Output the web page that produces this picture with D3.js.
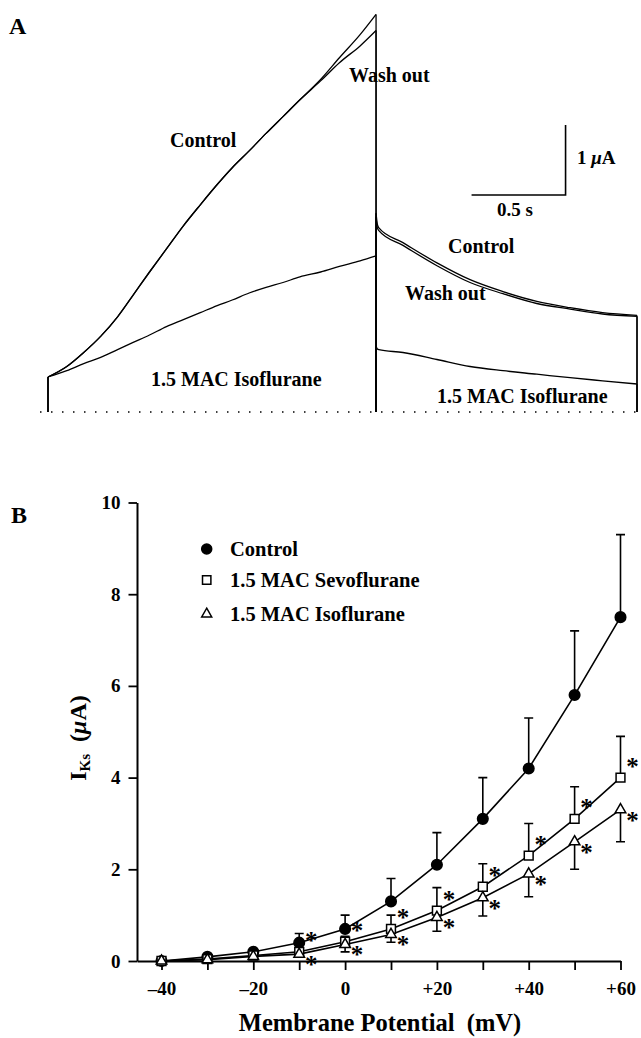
<!DOCTYPE html>
<html>
<head>
<meta charset="utf-8">
<script src="https://cdn.jsdelivr.net/npm/d3@7"></script>
<style>
  body { margin: 0; background: #fff; }
  svg { display: block; font-family: "Liberation Serif", "Times New Roman", serif; font-weight: bold; }
</style>
</head>
<body>
<svg width="641" height="1038"></svg>
<script>
// ---------- panel A data: current traces (time in s, current in uA)
var actTime    = [0, 0.1, 0.19, 0.28, 0.37, 0.45, 0.54, 0.63, 0.72, 0.81, 0.9, 0.98, 1.07, 1.16, 1.25, 1.34, 1.45, 1.55, 1.66, 1.745];
var actControl = [0.5, 0.65, 0.85, 1.08, 1.36, 1.66, 2.0, 2.33, 2.66, 2.96, 3.25, 3.49, 3.73, 3.98, 4.22, 4.46, 4.75, 5.06, 5.39, 5.68];
var actWashout = [0.5, 0.65, 0.85, 1.08, 1.36, 1.66, 2.0, 2.33, 2.66, 2.96, 3.25, 3.49, 3.73, 3.98, 4.22, 4.46, 4.73, 4.99, 5.23, 5.45];
var actIso     = [0.5, 0.59, 0.69, 0.78, 0.89, 0.99, 1.1, 1.22, 1.32, 1.42, 1.52, 1.6, 1.7, 1.78, 1.85, 1.93, 2.0, 2.08, 2.16, 2.23];

var tailTime    = [1.745, 1.752, 1.76, 1.888, 2.069, 2.245, 2.42, 2.6, 2.777, 2.95, 3.133];
var tailControl = [2.84, 2.68, 2.63, 2.42, 2.13, 1.89, 1.72, 1.58, 1.49, 1.42, 1.38];
var tailWashout = [2.79, 2.63, 2.59, 2.38, 2.09, 1.85, 1.69, 1.55, 1.47, 1.4, 1.365];
var tailIso     = [0.94, 0.9, 0.89, 0.85, 0.75, 0.65, 0.59, 0.54, 0.49, 0.446, 0.4];

// scale bars: 0.5 s and 1 uA
var barTime = 2.753, barCurrent = 3.1;

// ---------- panel B data: I-V relation
var mV         = [-40, -30, -20, -10, 0, 10, 20, 30, 40, 50, 60];
var control    = [0, 0.09, 0.2, 0.4, 0.7, 1.3, 2.1, 3.1, 4.2, 5.8, 7.5];
var controlErr = [0, 0, 0, 0.2, 0.3, 0.5, 0.7, 0.9, 1.1, 1.4, 1.8];
var sevo       = [0, 0.04, 0.12, 0.2, 0.42, 0.7, 1.1, 1.62, 2.3, 3.1, 4.0];
var sevoErr    = [0, 0, 0, 0, 0.12, 0.3, 0.5, 0.5, 0.7, 0.7, 0.9];
var iso        = [0, 0.03, 0.1, 0.15, 0.36, 0.58, 0.95, 1.38, 1.9, 2.6, 3.3];
var isoErr     = [0, 0, 0, 0, 0.16, 0.17, 0.3, 0.4, 0.5, 0.6, 0.7];
var sevoStar   = [0, 0, 0, 1, 1, 1, 1, 1, 1, 1, 1];
var isoStar    = [0, 0, 0, 1, 1, 1, 1, 1, 1, 1, 1];
var legendNames = ["Control", "1.5 MAC Sevoflurane", "1.5 MAC Isoflurane"];
var yTicks = [0, 2, 4, 6, 8, 10];

var svg = d3.select("svg");

// ================= panel A =================
var tScale = d3.scaleLinear().domain([0, 1]).range([48, 236]);
var iScale = d3.scaleLinear().domain([0, 1]).range([412, 342]);

var smooth = d3.line()
  .x(function(d) { return tScale(d[0]); })
  .y(function(d) { return iScale(d[1]); })
  .curve(d3.curveMonotoneX);
var straight = d3.line()
  .x(function(d) { return tScale(d[0]); })
  .y(function(d) { return iScale(d[1]); });

var gA = svg.append("g");

// zero current, dotted
gA.append("line")
  .attr("x1", 40).attr("x2", 641)
  .attr("y1", iScale(0)).attr("y2", iScale(0))
  .attr("stroke", "#000").attr("stroke-width", 1.5)
  .attr("stroke-dasharray", "1.5,9.5");

[[actControl, tailControl], [actWashout, tailWashout], [actIso, tailIso]].forEach(function(tr) {
  var act = actTime.map(function(t, i) { return [t, tr[0][i]]; });
  var tail = tailTime.map(function(t, i) { return [t, tr[1][i]]; });
  var tEnd = actTime[actTime.length - 1], tLast = tailTime[tailTime.length - 1];
  // steps of the voltage protocol
  [[[0, 0], act[0]],
   [act[act.length - 1], [tEnd, 0]],
   [[tEnd, 0], tail[0]],
   [tail[tail.length - 1], [tLast, 0]]].forEach(function(seg) {
    gA.append("path").attr("d", straight(seg))
      .attr("fill", "none").attr("stroke", "#000").attr("stroke-width", 1.3);
  });
  [act, tail].forEach(function(p) {
    gA.append("path").attr("d", smooth(p))
      .attr("fill", "none").attr("stroke", "#000").attr("stroke-width", 1.3);
  });
});

// scale bars
gA.append("path")
  .attr("d", "M" + tScale(barTime - 0.5) + "," + iScale(barCurrent) +
             "H" + tScale(barTime) + "V" + iScale(barCurrent + 1))
  .attr("fill", "none").attr("stroke", "#000").attr("stroke-width", 1.6);

var ua = gA.append("text").attr("x", 577).attr("y", 164).attr("font-size", 19);
ua.append("tspan").style("white-space", "pre").text("1 ");
ua.append("tspan").attr("font-style", "italic").text("\u03bc");
ua.append("tspan").text("A");
gA.append("text").attr("x", 515).attr("y", 216).attr("font-size", 19)
  .attr("text-anchor", "middle").text("0.5 s");

var labelsA = [
  ["A", 9, 34, 24],
  ["Control", 170, 147, 20],
  ["Wash out", 349, 82, 20],
  ["Control", 448, 253, 20],
  ["Wash out", 405, 300, 20],
  ["1.5 MAC Isoflurane", 151, 386, 20],
  ["1.5 MAC Isoflurane", 437, 403, 20]
];
labelsA.forEach(function(l) {
  gA.append("text").attr("x", l[1]).attr("y", l[2]).attr("font-size", l[3]).text(l[0]);
});

// ================= panel B =================
var x = d3.scaleLinear().domain([-45.34, 60]).range([137, 620.5]);
var y = d3.scaleLinear().domain([0, 10]).range([961, 502.5]);

var gB = svg.append("g");

var xAxis = d3.axisBottom(x)
  .tickValues(mV)
  .tickSize(9).tickSizeOuter(0).tickPadding(11.5)
  .tickFormat(function(d) {
    if (d % 20 !== 0) return "";
    if (d > 0) return "+" + d;
    if (d < 0) return "\u2013" + Math.abs(d);
    return "0";
  });
var yAxis = d3.axisLeft(y)
  .tickValues(yTicks)
  .tickSize(8.5).tickSizeOuter(0).tickPadding(8);

var gx = gB.append("g").attr("transform", "translate(0," + y(0) + ")").call(xAxis);
var gy = gB.append("g").attr("transform", "translate(" + x.range()[0] + ",0)").call(yAxis);
[gx, gy].forEach(function(g) {
  g.attr("font-family", null).attr("font-size", 19);
  g.selectAll("path, line").attr("stroke-width", 1.8);
  g.selectAll("text").attr("fill", "#000");
});
gy.select(".domain").attr("stroke-width", 2);

// y label
var yl = gB.append("text")
  .attr("transform", "translate(86,738) rotate(-90)")
  .attr("text-anchor", "middle")
  .attr("font-size", 24);
yl.append("tspan").text("I");
yl.append("tspan").attr("font-size", 15).attr("dy", 4).text("Ks");
yl.append("tspan").attr("dy", -4).style("white-space", "pre").text("  (");
yl.append("tspan").attr("font-style", "italic").text("\u03bc");
yl.append("tspan").text("A)");

gB.append("text")
  .attr("x", 380).attr("y", 1031)
  .attr("text-anchor", "middle")
  .attr("font-size", 24.5)
  .style("white-space", "pre")
  .text("Membrane Potential  (mV)");

gB.append("text").attr("x", 11).attr("y", 523).attr("font-size", 24).text("B");

function rows(vals, errs) {
  return mV.map(function(v, i) { return { v: v, y: vals[i], e: errs[i], i: i }; });
}
var series = [
  { name: "control", data: rows(control, controlErr), dir: 1, sym: d3.symbolCircle, size: 88, fill: "#000" },
  { name: "sevo", data: rows(sevo, sevoErr), dir: 1, sym: d3.symbolSquare, size: 78, fill: "#fff" },
  { name: "iso", data: rows(iso, isoErr), dir: -1, sym: d3.symbolTriangle, size: 48, fill: "#fff" }
];

var line = d3.line()
  .x(function(d) { return x(d.v); })
  .y(function(d) { return y(d.y); });

series.forEach(function(s) {
  gB.append("path")
    .attr("d", line(s.data))
    .attr("fill", "none").attr("stroke", "#000").attr("stroke-width", 1.6);
});

// error bars (one-sided)
series.forEach(function(s) {
  gB.append("g").selectAll("path")
    .data(s.data.filter(function(d) { return d.e > 0; }))
    .enter().append("path")
    .attr("d", function(d) {
      var cx = x(d.v), y0 = y(d.y), y1 = y(d.y + s.dir * d.e);
      return "M" + cx + "," + y0 + "V" + y1 + "M" + (cx - 4.5) + "," + y1 + "H" + (cx + 4.5);
    })
    .attr("fill", "none").attr("stroke", "#000").attr("stroke-width", 1.6);
});

// markers
series.forEach(function(s) {
  gB.append("g").selectAll("path")
    .data(s.data)
    .enter().append("path")
    .attr("transform", function(d) { return "translate(" + x(d.v) + "," + y(d.y) + ")"; })
    .attr("d", d3.symbol().type(s.sym).size(s.size))
    .attr("fill", s.fill).attr("stroke", "#000").attr("stroke-width", 1.5);
});

// significance stars
function stars(vals, flags, dy) {
  gB.append("g").selectAll("text")
    .data(mV.filter(function(v, i) { return flags[i]; }))
    .enter().append("text")
    .attr("x", function(v) { return x(v) + 12; })
    .attr("y", function(v) { return y(vals[mV.indexOf(v)]) + dy + 11; })
    .attr("text-anchor", "middle")
    .attr("font-size", 25)
    .attr("fill", "#000")
    .text("*");
}
stars(sevo, sevoStar, -14);
stars(iso, isoStar, 8);

// legend
var legend = gB.append("g");
var legendY = [549, 580, 614];
series.forEach(function(s, i) {
  legend.append("path")
    .attr("transform", "translate(206.7," + legendY[i] + ")")
    .attr("d", d3.symbol().type(s.sym).size(s.size * 0.9))
    .attr("fill", s.fill).attr("stroke", "#000").attr("stroke-width", 1.5);
  legend.append("text")
    .attr("x", 230).attr("y", legendY[i] + 7)
    .attr("font-size", 20.5)
    .text(legendNames[i]);
});
</script>
</body>
</html>
